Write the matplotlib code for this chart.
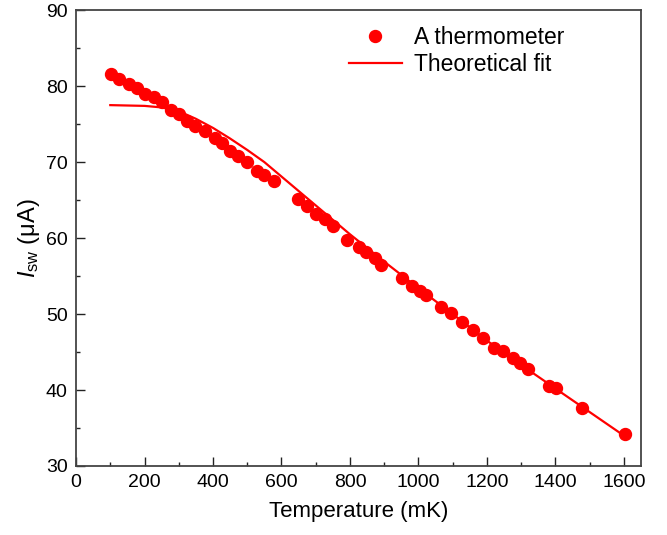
import matplotlib
matplotlib.use("Agg")
import matplotlib.pyplot as plt
from matplotlib.ticker import MultipleLocator

plt.rcParams['font.family'] = ['Liberation Sans', 'DejaVu Sans']
plt.rcParams['mathtext.fontset'] = 'custom'
plt.rcParams['mathtext.rm'] = 'Liberation Sans'
plt.rcParams['mathtext.it'] = 'Liberation Sans:italic'

# measured switching current vs temperature
temp = [102, 126, 155, 178, 202, 228, 251, 278, 301, 325, 348, 377, 406, 427,
        450, 474, 500, 529, 550, 579, 649, 675, 702, 728, 751, 792, 825, 848,
        874, 892, 953, 980, 1006, 1023, 1067, 1094, 1126, 1158, 1190, 1222,
        1246, 1275, 1298, 1319, 1380, 1401, 1477, 1602]
isw = [81.6, 80.9, 80.3, 79.7, 78.9, 78.6, 77.9, 76.8, 76.3, 75.4, 74.7, 74.1,
       73.2, 72.5, 71.4, 70.8, 70.0, 68.8, 68.3, 67.5, 65.1, 64.2, 63.2, 62.5,
       61.6, 59.7, 58.8, 58.2, 57.4, 56.4, 54.7, 53.7, 53.0, 52.5, 50.9, 50.1,
       48.9, 47.9, 46.8, 45.5, 45.1, 44.2, 43.6, 42.8, 40.5, 40.3, 37.6, 34.2]

# theoretical fit curve
fit_t = [100, 200, 250, 300, 350, 400, 450, 500, 550, 600, 650, 700, 750, 800,
         900, 1000, 1100, 1200, 1300, 1400, 1500, 1600]
fit_i = [77.5, 77.4, 77.2, 76.7, 75.7, 74.5, 73.1, 71.6, 70.0, 68.1, 66.2, 64.3,
         62.4, 60.5, 56.9, 53.4, 50.0, 46.5, 43.3, 40.2, 37.1, 34.0]

fig = plt.figure(figsize=(6.67, 5.35), dpi=100)
ax = fig.add_axes([0.114, 0.129, 0.847, 0.852])

ax.plot(temp, isw, 'o', color='#ff0000', ms=8.6, mec='#ff0000', label='A thermometer', zorder=3)
ax.plot(fit_t, fit_i, '-', color='#ff0000', lw=1.6, label='Theoretical fit', zorder=2)

ax.set_xlim(0, 1650)
ax.set_ylim(30, 90)
ax.xaxis.set_major_locator(MultipleLocator(200))
ax.xaxis.set_minor_locator(MultipleLocator(100))
ax.yaxis.set_major_locator(MultipleLocator(10))
ax.yaxis.set_minor_locator(MultipleLocator(5))
ax.tick_params(which='both', direction='in', top=False, right=False, labelsize=14, width=1, color='#222222')
ax.tick_params(which='major', length=6.5)
ax.tick_params(which='minor', length=3)
ax.tick_params(axis='x', pad=6)
ax.tick_params(axis='y', pad=6)
for s in ax.spines.values():
    s.set_color('#444444')
    s.set_linewidth(1.3)

ax.set_xlabel('Temperature (mK)', fontsize=16, labelpad=7)
ax.set_ylabel(r'$I_{\rm sw}$ (μA)', fontsize=17, labelpad=3)

ax.legend(loc='upper right', frameon=False, fontsize=16.5, handlelength=2.3,
          handletextpad=0.55, borderaxespad=0.3, labelspacing=0.15,
          bbox_to_anchor=(0.893, 1.0))

fig.savefig('out.png', dpi=100)
